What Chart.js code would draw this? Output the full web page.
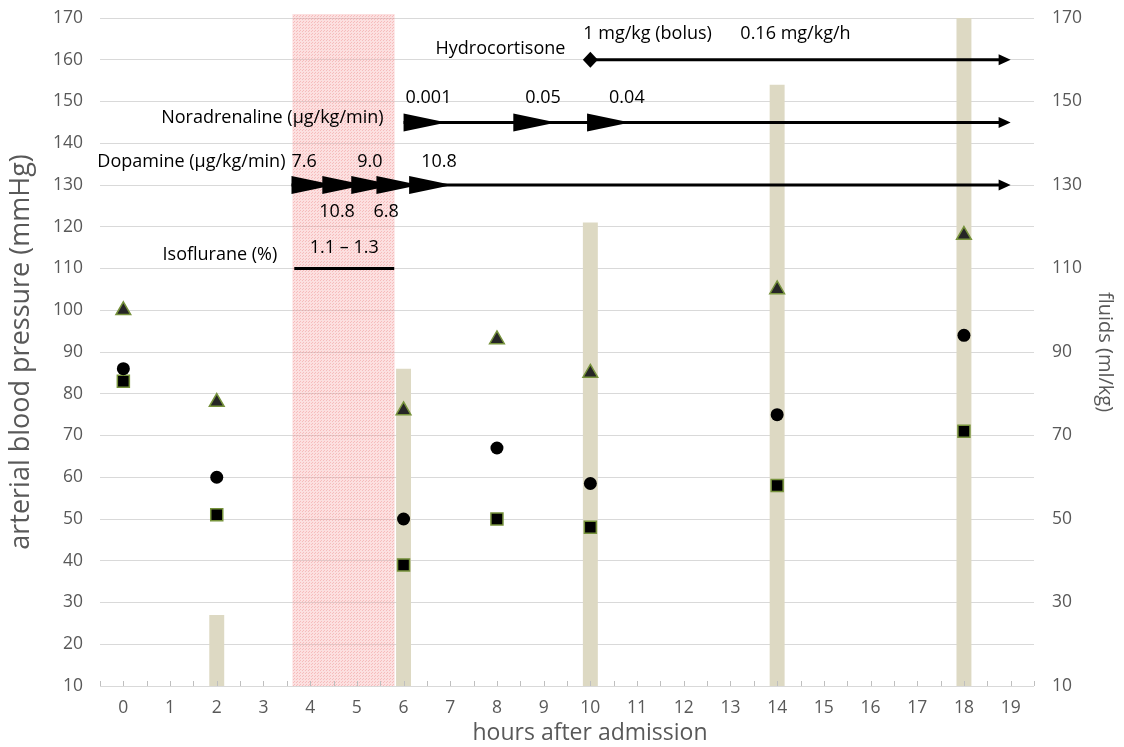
<!DOCTYPE html>
<html>
<head>
<meta charset="utf-8">
<script src="https://cdn.jsdelivr.net/npm/chart.js@4/dist/chart.umd.min.js"></script>
<style>
  html, body { margin: 0; background: #fff; }
  #wrap { width: 1124px; height: 747px; }
</style>
</head>
<body>
<div id="wrap"><canvas id="chart"></canvas></div>
<script>
// ---- Data ----
const hours = [0, 1, 2, 3, 4, 5, 6, 7, 8, 9, 10, 11, 12, 13, 14, 15, 16, 17, 18, 19];
const sampleHours = [0, 2, 6, 8, 10, 14, 18];
const systolic = [100, 78, 76, 93, 85, 105, 118];
const meanBP = [86, 60, 50, 67, 58.5, 75, 94];
const diastolic = [83, 51, 39, 50, 48, 58, 71];
const fluidHours = [2, 6, 10, 14, 18];
const fluids = [27, 86, 121, 154, 170];

// drug annotations: times in hours, levels on the mmHg axis
const isofluraneBand = [3.62, 5.81];
const isofluraneLine = [3.66, 5.8];
const isofluraneLevel = 110;
const isofluraneDose = '1.1 – 1.3';
const dopamineHours = [3.6, 4.26, 4.88, 5.42, 6.12];
const dopamineDoses = ['7.6', '10.8', '9.0', '6.8', '10.8'];
const dopamineLevel = 130;
const noradHours = [6.0, 8.35, 9.93];
const noradDoses = ['0.001', '0.05', '0.04'];
const noradLevel = 145;
const hydroStart = 10;
const hydroDoses = ['1 mg/kg (bolus)', '0.16 mg/kg/h'];
const hydroLevel = 160;
const infusionEnd = 19;

const FONT = "'Open Sans', sans-serif";
const GREY = '#595959';
const OLIVE = '#77933C';

const pts = (ys) => sampleHours.map((h, i) => ({ x: h, y: ys[i] }));

// ---- Helpers ----
function pinkPattern(ctx) {
  const c = document.createElement('canvas');
  c.width = 3; c.height = 3;
  const p = c.getContext('2d');
  p.fillStyle = 'rgba(246,165,165,0.34)';
  p.fillRect(0, 0, 3, 3);
  p.fillStyle = 'rgba(236,120,120,0.35)';
  p.fillRect(0, 0, 1, 1);
  p.fillRect(2, 1, 1, 1);
  return ctx.createPattern(c, 'repeat');
}

function bigHead(ctx, x, y) {
  ctx.beginPath();
  ctx.moveTo(x, y - 9);
  ctx.lineTo(x + 43, y);
  ctx.lineTo(x, y + 9);
  ctx.closePath();
  ctx.fill();
}

function infusion(ctx, x0, x1, y) {
  ctx.lineWidth = 3;
  ctx.beginPath();
  ctx.moveTo(x0, y);
  ctx.lineTo(x1 - 10, y);
  ctx.stroke();
  ctx.beginPath();
  ctx.moveTo(x1, y);
  ctx.lineTo(x1 - 12, y - 5.5);
  ctx.lineTo(x1 - 12, y + 5.5);
  ctx.closePath();
  ctx.fill();
}

function text(ctx, s, x, y, align) {
  ctx.textAlign = align;
  ctx.fillText(s, x, y);
}

// y axes: keep the plot top at the layout padding, not label height + tick padding
const noVertPadding = (width) => (s) => { s.width = width; s.paddingTop = 0; s.paddingBottom = 0; };

// ---- Annotation plugin ----
const annotations = {
  id: 'annotations',
  beforeDatasetsDraw(chart) {
    const { ctx, chartArea, scales: { x } } = chart;
    const x0 = x.getPixelForValue(isofluraneBand[0]);
    const x1 = x.getPixelForValue(isofluraneBand[1]);
    ctx.save();
    ctx.fillStyle = pinkPattern(ctx);
    ctx.fillRect(x0, chartArea.top - 4, x1 - x0, chartArea.bottom - chartArea.top + 4);
    ctx.restore();
  },
  afterDatasetsDraw(chart) {
    const { ctx, chartArea, scales: { x, y } } = chart;
    const end = x.getPixelForValue(infusionEnd);
    ctx.save();
    ctx.fillStyle = '#000';
    ctx.strokeStyle = '#000';
    ctx.font = `18px ${FONT}`;
    ctx.textBaseline = 'middle';

    // hydrocortisone
    const hx = x.getPixelForValue(hydroStart), hy = y.getPixelForValue(hydroLevel);
    infusion(ctx, hx, end, hy);
    ctx.beginPath();
    ctx.moveTo(hx, hy - 8); ctx.lineTo(hx + 7.5, hy); ctx.lineTo(hx, hy + 8); ctx.lineTo(hx - 7.5, hy);
    ctx.closePath(); ctx.fill();
    text(ctx, 'Hydrocortisone', hx - 25, hy - 11, 'right');
    text(ctx, hydroDoses[0], hx - 7, hy - 26, 'left');
    text(ctx, hydroDoses[1], hx + 150, hy - 26, 'left');

    // noradrenaline
    const ny = y.getPixelForValue(noradLevel);
    const nx = noradHours.map((h) => x.getPixelForValue(h));
    infusion(ctx, nx[0], end, ny);
    nx.forEach((px, i) => {
      bigHead(ctx, px, ny);
      text(ctx, noradDoses[i], px + 2 + i * 10, ny - 25, 'left');
    });
    text(ctx, 'Noradrenaline (µg/kg/min)', nx[0] - 20, ny - 5, 'right');

    // dopamine
    const dy = y.getPixelForValue(dopamineLevel);
    const dx = dopamineHours.map((h) => x.getPixelForValue(h));
    infusion(ctx, dx[0], end, dy);
    dx.forEach((px, i) => {
      bigHead(ctx, px, dy);
      const above = i % 2 === 0;
      text(ctx, dopamineDoses[i], px + (above ? i * 3 : -3), above ? dy - 23 : dy + 27, 'left');
    });
    text(ctx, 'Dopamine (µg/kg/min)', dx[0] - 6, dy - 23, 'right');

    // isoflurane
    const iy = y.getPixelForValue(isofluraneLevel);
    const ix0 = x.getPixelForValue(isofluraneLine[0]), ix1 = x.getPixelForValue(isofluraneLine[1]);
    ctx.lineWidth = 3;
    ctx.beginPath(); ctx.moveTo(ix0, iy); ctx.lineTo(ix1, iy); ctx.stroke();
    text(ctx, isofluraneDose, (ix0 + ix1) / 2, iy - 21, 'center');
    text(ctx, 'Isoflurane (%)', ix0 - 17, iy - 14, 'right');

    // small inward tick marks on the hour axis
    ctx.strokeStyle = '#BFBFBF';
    ctx.lineWidth = 1;
    for (let v = -0.5; v <= 19.5; v += 0.5) {
      const px = Math.round(x.getPixelForValue(v)) + 0.5;
      ctx.beginPath();
      ctx.moveTo(px, chartArea.bottom);
      ctx.lineTo(px, chartArea.bottom - 5);
      ctx.stroke();
    }
    ctx.restore();
  }
};

// ---- Chart ----
new Chart(document.getElementById('chart'), {
  type: 'bar',
  data: {
    labels: hours,
    datasets: [
      {
        type: 'line', label: 'systolic', data: pts(systolic), showLine: false,
        pointStyle: 'triangle', pointRadius: 8.5, pointBackgroundColor: '#262626',
        pointBorderColor: OLIVE, pointBorderWidth: 1.5, order: 1
      },
      {
        type: 'line', label: 'mean', data: pts(meanBP), showLine: false,
        pointStyle: 'circle', pointRadius: 6.5, pointBackgroundColor: '#000',
        pointBorderColor: '#000', pointBorderWidth: 0, order: 1
      },
      {
        type: 'line', label: 'diastolic', data: pts(diastolic), showLine: false,
        pointStyle: 'rect', pointRadius: 8.5, pointBackgroundColor: '#000',
        pointBorderColor: OLIVE, pointBorderWidth: 1.5, order: 1
      },
      {
        type: 'bar', label: 'fluids', yAxisID: 'y2',
        data: fluidHours.map((h, i) => ({ x: h, y: fluids[i] })),
        backgroundColor: '#DDD9C3', barPercentage: 0.32, categoryPercentage: 1, order: 3
      }
    ]
  },
  options: {
    responsive: true,
    maintainAspectRatio: false,
    animation: false,
    events: [],
    layout: { padding: { top: 18, left: 0, right: 0, bottom: 0 } },
    plugins: { legend: { display: false }, tooltip: { enabled: false } },
    scales: {
      x: {
        type: 'category',
        offset: true,
        grid: { display: false },
        border: { display: false },
        ticks: { color: GREY, font: { family: FONT, size: 17.5 }, autoSkip: false, maxRotation: 0, padding: 4 },
        title: {
          display: true, text: '\u2003\u2003hours after admission', color: GREY,
          font: { family: FONT, size: 23 }, padding: { bottom: 0 }
        },
        afterFit: (s) => { s.height = 61; }
      },
      y: {
        position: 'left', min: 10, max: 170,
        ticks: { stepSize: 10, color: GREY, font: { family: FONT, size: 17.5 }, padding: 17 },
        grid: { color: '#D9D9D9', drawTicks: false },
        border: { display: false },
        title: {
          display: true, text: 'arterial blood pressure (mmHg)', color: GREY,
          font: { family: FONT, size: 27 }, padding: { top: 5 }
        },
        afterFit: noVertPadding(100)
      },
      y2: {
        position: 'right', min: 10, max: 170,
        ticks: { stepSize: 20, color: GREY, font: { family: FONT, size: 17.5 }, padding: 18 },
        grid: { display: false, drawTicks: false },
        border: { display: false },
        title: {
          display: true, text: 'fluids (ml/kg)', color: GREY,
          font: { family: FONT, size: 20 }, padding: { top: 7 }
        },
        afterFit: noVertPadding(90)
      }
    }
  },
  plugins: [annotations]
});
</script>
</body>
</html>
